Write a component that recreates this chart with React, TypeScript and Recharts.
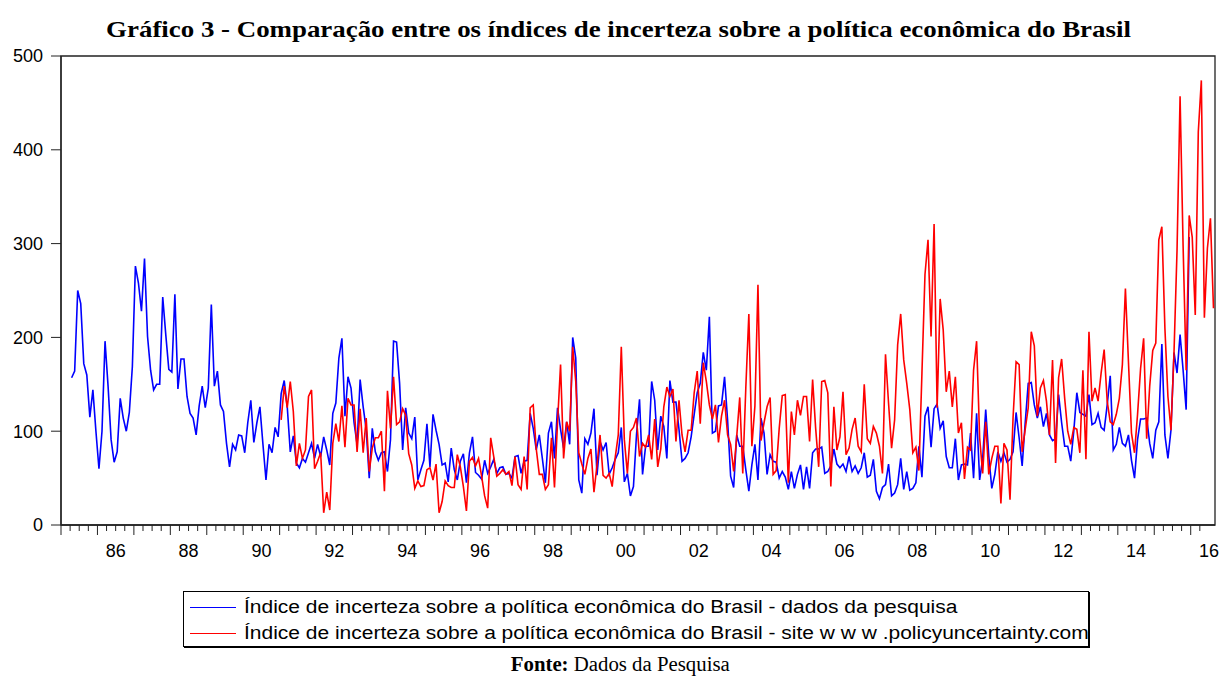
import React from "react";
import { LineChart, Line, XAxis, YAxis, ReferenceArea } from "recharts";

// monthly index, "dados da pesquisa" starts 1985:04
const pesquisaStart = 3;
const pesquisa = [
  157, 164, 250, 236, 172, 160, 115, 144, 100,
  60, 100, 196, 148, 91, 67, 78, 135, 114, 100, 120, 169,
  276, 258, 228, 284, 201, 165, 144, 150, 150, 243, 203, 166,
  163, 246, 145, 177, 177, 137, 119, 114, 96, 127, 148, 125,
  146, 235, 148, 164, 128, 121, 87, 62, 86, 80, 96, 95,
  77, 109, 133, 88, 109, 126, 86, 48, 86, 77, 104, 94,
  140, 154, 126, 78, 95, 66, 61, 71, 67, 77, 87, 71,
  86, 73, 94, 80, 64, 119, 130, 178, 199, 116, 158, 146,
  109, 86, 155, 126, 102, 50, 103, 78, 69, 77, 78, 57,
  91, 196, 195, 151, 80, 125, 98, 92, 115, 48, 59, 69,
  108, 62, 118, 101, 86, 64, 66, 46, 82, 59, 48, 68,
  76, 45, 77, 94, 56, 53, 49, 69, 55, 62, 70, 55,
  61, 62, 54, 55, 50, 73, 74, 55, 68, 69, 119, 103,
  80, 96, 71, 45, 98, 110, 71, 125, 102, 82, 110, 86,
  200, 178, 48, 34, 92, 86, 98, 124, 53, 89, 80, 88,
  54, 61, 70, 77, 104, 46, 55, 31, 41, 96, 134, 54,
  84, 84, 153, 133, 80, 116, 105, 71, 154, 131, 131, 102,
  68, 71, 77, 94, 118, 141, 151, 184, 165, 222, 98, 100,
  127, 128, 158, 112, 52, 40, 96, 84, 84, 59, 36, 64,
  86, 48, 114, 98, 54, 75, 68, 67, 50, 57, 51, 38,
  57, 39, 54, 64, 38, 62, 39, 77, 81, 81, 83, 55,
  57, 63, 81, 65, 61, 65, 57, 73, 57, 63, 55, 61,
  77, 51, 53, 70, 36, 28, 40, 43, 65, 31, 34, 43,
  71, 38, 57, 37, 39, 45, 84, 51, 116, 126, 83, 124,
  129, 103, 111, 73, 61, 61, 92, 48, 64, 65, 64, 98,
  50, 119, 48, 71, 123, 74, 39, 54, 78, 68, 77, 67,
  70, 78, 120, 93, 63, 109, 151, 152, 128, 114, 126, 105,
  119, 96, 90, 92, 139, 109, 84, 84, 68, 100, 141, 120,
  118, 116, 139, 107, 109, 119, 104, 101, 128, 159, 80, 86,
  104, 87, 84, 96, 69, 50, 91, 113, 113, 114, 87, 71,
  101, 110, 193, 96, 71, 101, 184, 162, 203, 165, 123, 307,
];

// policyuncertainty.com series starts 1991:01
const siteStart = 72;
const site = [
  112, 148, 125, 153, 121, 63, 87, 71, 80, 137, 144, 60,
  68, 77, 13, 35, 16, 87, 108, 89, 127, 83, 135, 128,
  128, 78, 124, 77, 114, 57, 82, 93, 93, 100, 36, 143,
  103, 158, 107, 110, 124, 117, 76, 64, 39, 47, 41, 42,
  59, 61, 48, 65, 13, 25, 47, 42, 40, 40, 75, 62,
  41, 15, 68, 72, 63, 71, 52, 31, 18, 93, 73, 52,
  55, 59, 54, 57, 42, 73, 43, 38, 73, 38, 125, 128,
  81, 54, 54, 38, 43, 93, 40, 109, 171, 71, 110, 100,
  190, 153, 77, 65, 54, 71, 81, 35, 64, 96, 53, 50,
  55, 41, 72, 96, 190, 91, 55, 100, 104, 114, 73, 87,
  83, 96, 70, 113, 62, 81, 126, 147, 137, 145, 89, 133,
  96, 78, 101, 101, 141, 164, 108, 173, 153, 128, 113, 128,
  88, 116, 133, 96, 86, 57, 94, 136, 55, 146, 225, 84,
  127, 256, 90, 109, 126, 136, 54, 58, 103, 138, 139, 45,
  121, 96, 133, 117, 137, 137, 89, 155, 103, 62, 153, 154,
  141, 41, 126, 80, 94, 142, 75, 82, 102, 114, 84, 78,
  150, 92, 87, 105, 98, 84, 55, 182, 130, 82, 112, 192,
  225, 176, 151, 123, 77, 83, 58, 162, 267, 304, 201, 321,
  125, 241, 208, 142, 164, 126, 158, 98, 109, 49, 83, 80,
  165, 196, 93, 55, 110, 54, 71, 84, 84, 23, 87, 80,
  27, 114, 174, 171, 78, 102, 125, 206, 191, 116, 146, 154,
  132, 96, 176, 66, 157, 177, 135, 100, 86, 104, 102, 77,
  165, 70, 206, 132, 146, 132, 162, 187, 132, 110, 107, 118,
  135, 171, 252, 174, 98, 77, 118, 167, 199, 92, 148, 186,
  194, 304, 318, 210, 137, 101, 184, 293, 457, 297, 165, 330,
  307, 224, 419, 474, 221, 295, 327, 231,
];

const firstYear = 1985;
const nMonths = 380; // 1985:01 .. 2016:08
const yTicks = [0, 100, 200, 300, 400, 500];
const quarterTicks = Array.from({ length: nMonths / 3 }, (_, i) => i * 3);
const labelYears = [1986, 1988, 1990, 1992, 1994, 1996, 1998, 2000, 2002, 2004, 2006, 2008, 2010, 2012, 2014, 2016];
const yearLabelTicks = labelYears.map((y) => (y - firstYear) * 12 + 6);

const rows = Array.from({ length: nMonths }, (_, m) => {
  const b = m - pesquisaStart;
  const s = m - siteStart;
  return {
    t: m + 0.5,
    pesquisa: b >= 0 && b < pesquisa.length ? pesquisa[b] : null,
    site: s >= 0 && s < site.length ? site[s] : null,
  };
});

const SANS = '"Liberation Sans", Arial, sans-serif';
const SERIF = '"Liberation Serif", "Times New Roman", serif';

const QuarterTick = (props: any) => {
  const { x, y, payload } = props;
  const major = payload.value % 12 === 0;
  return <line x1={x} x2={x} y1={y} y2={y + (major ? 10 : 6)} stroke="#222" strokeWidth={1} />;
};

function yearLabel(v: number) {
  const year = firstYear + Math.floor(v / 12);
  return String(year % 100).padStart(2, "0");
}

export default function App() {
  return (
    <div style={{ position: "absolute", left: 0, top: 0, width: 1221, height: 681, background: "#fff" }}>
      <div
        style={{
          position: "absolute",
          left: 0,
          width: 1237,
          top: 16,
          textAlign: "center",
          fontFamily: SERIF,
          fontWeight: "bold",
          fontSize: 24,
          color: "#000",
          whiteSpace: "nowrap",
        }}
      >
        <span style={{ display: "inline-block", transform: "scaleX(1.12)" }}>
          Gráfico 3 - Comparação entre os índices de incerteza sobre a política econômica do Brasil
        </span>
      </div>

      <div style={{ position: "absolute", left: 0, top: 0 }}>
        <LineChart width={1221} height={565} data={rows} margin={{ top: 56, right: 6, left: 0, bottom: 0 }}>
          <XAxis
            xAxisId="q"
            dataKey="t"
            type="number"
            domain={[0, nMonths]}
            ticks={quarterTicks}
            interval={0}
            height={12}
            tickLine={false}
            tickSize={0}
            tickMargin={0}
            axisLine={{ stroke: "#222", strokeWidth: 1.3 }}
            tick={<QuarterTick />}
            allowDataOverflow
          />
          <XAxis
            xAxisId="yr"
            dataKey="t"
            type="number"
            domain={[0, nMonths]}
            ticks={yearLabelTicks}
            interval={0}
            height={28}
            tickLine={false}
            axisLine={false}
            tickSize={0}
            tickMargin={7}
            tickFormatter={yearLabel}
            tick={{ fontSize: 18, fill: "#000", fontFamily: SANS }}
            allowDataOverflow
          />
          <YAxis
            domain={[0, 500]}
            ticks={yTicks}
            interval={0}
            width={61}
            tickSize={10}
            tickMargin={8}
            tickLine={{ stroke: "#222" }}
            axisLine={{ stroke: "#222", strokeWidth: 1.3 }}
            tick={{ fontSize: 18, fill: "#000", fontFamily: SANS }}
            allowDataOverflow
          />
          <ReferenceArea
            xAxisId="q"
            x1={0}
            x2={nMonths}
            y1={0}
            y2={500}
            fill="none"
            fillOpacity={0}
            stroke="#222"
            strokeWidth={1.3}
            strokeOpacity={1}
          />
          <Line
            xAxisId="q"
            type="linear"
            dataKey="pesquisa"
            stroke="#0000ff"
            strokeWidth={1.6}
            dot={false}
            connectNulls={false}
            isAnimationActive={false}
          />
          <Line
            xAxisId="q"
            type="linear"
            dataKey="site"
            stroke="#ff0000"
            strokeWidth={1.6}
            dot={false}
            connectNulls={false}
            isAnimationActive={false}
          />
        </LineChart>
      </div>

      <div
        style={{
          position: "absolute",
          left: 183,
          top: 591,
          width: 906,
          height: 56,
          border: "1px solid #000",
          boxShadow: "1px 1px 0 #000",
          boxSizing: "border-box",
          fontFamily: SANS,
          fontSize: 18,
          color: "#000",
        }}
      >
        {[
          { color: "#0000ff", text: "Índice de incerteza sobre a política econômica do Brasil - dados da pesquisa" },
          { color: "#ff0000", text: "Índice de incerteza sobre a política econômica do Brasil - site w w w .policyuncertainty.com" },
        ].map((item, i) => (
          <div
            key={i}
            style={{ position: "absolute", left: 6, top: 3 + i * 26, height: 24, display: "flex", alignItems: "center", whiteSpace: "nowrap" }}
          >
            <span style={{ display: "inline-block", width: 46, height: 0, borderTop: `1.6px solid ${item.color}`, marginRight: 8 }} />
            <span style={{ display: "inline-block", transform: "scaleX(1.165)", transformOrigin: "left center" }}>{item.text}</span>
          </div>
        ))}
      </div>

      <div
        style={{
          position: "absolute",
          left: 0,
          width: 1240,
          top: 653,
          textAlign: "center",
          fontFamily: SERIF,
          fontSize: 20,
          color: "#000",
        }}
      >
        <span style={{ display: "inline-block", transform: "scaleX(1.04)" }}>
          <b>Fonte:</b> Dados da Pesquisa
        </span>
      </div>
    </div>
  );
}
